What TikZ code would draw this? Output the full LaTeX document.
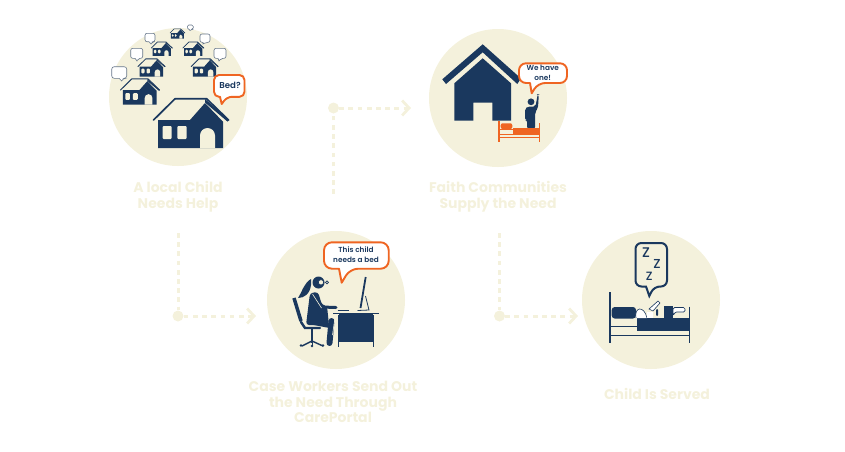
\documentclass[tikz,border=0pt]{standalone}
\usepackage{fontspec}
\setmainfont{Poppins}
\newfontfamily\midfont{Poppins Medium}
\newfontfamily\semifont{Poppins SemiBold}
\usetikzlibrary{arrows.meta}
\definecolor{cream}{HTML}{F4F1DC}
\definecolor{navy}{HTML}{1A385E}
\definecolor{flame}{HTML}{EF6522}
\definecolor{hazy}{HTML}{66768A}
\tikzset{
  disc/.style={circle,fill=cream,inner sep=0pt,minimum size=138pt},
  caption/.style={text=cream,align=center,font=\fontsize{14}{15.6}\selectfont\bfseries,inner sep=0pt},
  saying/.style={text=navy,align=center,font=\fontsize{7.3}{10.6}\semifont,inner sep=0pt},
  trail/.style={draw=cream,line width=3pt,dash pattern=on 4.7pt off 4.5pt},
  trailhead/.style={draw=cream,line width=2.8pt,-{Straight Barb[length=7pt,width=15pt]}},
  dot/.style={circle,fill=cream,inner sep=0pt,minimum size=11pt},
  orangeballoon/.style={draw=flame,fill=white,line width=1.9pt,line join=round},
  tinyballoon/.style={draw=hazy,fill=white,line width=.6pt},
  pics/cottage/.style={code={
    \fill[navy] (-33,0)--(-1,0)--(14,-17)--(32,1.7)--(32,28)--(-33,28)--cycle;
    \draw[navy,line width=#1pt,line join=round,line cap=round] (-37.5,0)--(-16,-21.2)--(15.7,-21.2)--(37.5,0);
    \fill[navy] (14,-21) -- (38.3,0) -- (36.5,1.6) -- (14,-17.5) -- cycle;
    \fill[cream] (9,28)--(9,15.5) arc[start angle=180,end angle=360,radius=7.5]--(24,28)--cycle;
    \fill[cream,rounded corners=1pt] (-28.3,6) rectangle (-19.3,19);
    \fill[cream,rounded corners=1pt] (-13.7,6) rectangle (-4.3,19);
  }}
}
% style, radius, x1, x2, y1, y2, tail start, tail end, tip
\newcommand{\speech}[9]{
  \draw[#1] (#9)--(#7,#6)[rounded corners=#2pt]--(#3,#6)--(#3,#5)--(#4,#5)--(#4,#6)--(#8,#6)[sharp corners]--cycle;
}
\begin{document}
\begin{tikzpicture}[x=1pt,y=-1pt]
\useasboundingbox (0,0) rectangle (845,451);

\node[disc] (need) at (178,97) {};
\node[disc] (supply) at (498,98) {};
\node[disc] (worker) at (336,300) {};
\node[disc] (served) at (651,300) {};

\node[caption] (needtext) at (178,197) {A local Child\\Needs Help};
\node[caption] (supplytext) at (498,197) {Faith Communities\\Supply the Need};
\node[caption] (workertext) at (333,402) {Case Workers Send Out\\the Need Through\\CarePortal};
\node[caption] (servedtext) at (657,394) {Child Is Served};

% dotted trails
\node[dot] (dotone) at (178,316) {};
\node[dot] (dottwo) at (333.5,108) {};
\node[dot] (dotthree) at (499.5,316) {};
\coordinate (startone) at (178,233);
\coordinate (starttwo) at (333.5,194);
\coordinate (startthree) at (499.5,233);
\coordinate (endone) at (256,316);
\coordinate (endtwo) at (411,108);
\coordinate (endthree) at (578,316);
\draw[trail] (startone)--(dotone);
\draw[trail] (dotone)--(endone);
\draw[trailhead,dash pattern=on 0pt off 100pt] (dotone)--(endone);
\draw[trail] (starttwo)--(dottwo);
\draw[trail] (dottwo)--(endtwo);
\draw[trailhead,dash pattern=on 0pt off 100pt] (dottwo)--(endtwo);
\draw[trail] (startthree)--(dotthree);
\draw[trail] (dotthree)--(endthree);
\draw[trailhead,dash pattern=on 0pt off 100pt] (dotthree)--(endthree);

% neighbourhood
\pic[scale=.2] at (177.5,33) {cottage=.5};
\pic[scale=.28] at (161.8,48) {cottage=.7};
\pic[scale=.28] at (193.3,48) {cottage=.7};
\pic[scale=.36] at (151.5,66.5) {cottage=.8};
\pic[scale=.36] at (204.7,66.5) {cottage=.8};
\pic[scale=.52] at (140,90) {cottage=1};
\pic at (191,120) {cottage=1.7};
\speech{tinyballoon}{2.5}{111.7}{126.7}{66.7}{78.3}{119}{123}{121.7,81}
\speech{tinyballoon}{2}{130.7}{142.7}{48.3}{58.3}{135}{138}{137,61}
\speech{tinyballoon}{2}{145}{155}{33.3}{41.7}{149}{152}{151,44}
\speech{tinyballoon}{2}{214}{226}{48.3}{58.3}{218}{221}{219,61}
\speech{tinyballoon}{2}{200}{210}{34}{42.3}{203}{206}{203,44}
\speech{tinyballoon}{1.5}{187.3}{193.3}{25}{29.3}{189}{191}{190,30.5}
\speech{orangeballoon}{5}{214}{244.5}{75}{96.8}{220}{227}{221.7,104}
\node[saying,font=\fontsize{8.6}{10}\semifont] (bedtext) at (230,85.5) {Bed?};

% church, helper and bed
\fill[navy] (482.7,44.3)--(521,78.5)--(517.3,84)--(482.7,52.3)--(446,84)--(442.3,79.3)--cycle;
\fill[navy] (482.7,58.3)--(511,83.3)--(511,120.7)--(492.3,120.7)--(492.3,102.7)--(473.3,102.7)--(473.3,120.7)--(454.3,120.7)--(454.3,83.3)--cycle;
\speech{orangeballoon}{7}{519}{567}{63.3}{83}{530}{538}{531.7,93.3}
\node[saying] (havetext) at (542.7,73) {We have\\one!};
\fill[navy] (531,101.8) circle (3.4);
\fill[navy,rounded corners=2pt] (525,120)--(525,108.5)--(528,106.5)--(535.5,106.5)--(537.7,94.3)--(538.8,94.5)--(538,108)--(535.2,112)--(535.2,128.5)--(527,128.5)--(527,120)--cycle;
\draw[flame,line width=1.2pt] (499,121)--(499,141.7);
\draw[flame,line width=1.2pt] (539.7,123.3)--(539.7,141.7);
\draw[flame,line width=1.2pt] (499,137.7)--(539.7,137.7);
\draw[flame,line width=.8pt] (499,129)--(513,129);
\draw[flame,line width=.8pt] (499,134.5)--(513,134.5);
\fill[flame] (512.7,128.3) rectangle (539.7,135);
\fill[flame,rounded corners=2pt] (500.7,129)--(500.7,123.3)--(512.3,123.3)--(512.3,129)--cycle;

% case worker
\speech{orangeballoon}{8}{324}{388.7}{242.3}{268.7}{339}{350}{341.7,282.7}
\node[saying] (childtext) at (356,254.5) {This child\\needs a bed};
\fill[navy] (318.5,282.5) circle (6);
\fill[navy] (311,279) .. controls (304,283) and (303,290) .. (298,298) .. controls (304,298) and (310,294) .. (311,285) -- cycle;
\draw[navy,line width=.7pt,fill=cream] (321,282.3) circle (2.7);
\draw[navy,line width=.7pt,fill=cream] (327,282.3) circle (1.5);
\fill[navy,rounded corners=3pt] (310,293)--(318,292)--(322,305)--(327,306)--(329,325)--(306,325)--cycle;
\draw[navy,line width=3pt,line cap=round,line join=round] (315,297)--(322,307)--(336,307.5);
\draw[cream,line width=.6pt] (312.5,294)--(321.5,308);
\draw[navy,line width=4.5pt,line cap=round] (310,322)--(331,326);
\draw[navy,line width=6pt,line cap=round] (331.5,321)--(329.5,343);
\draw[cream,line width=.6pt] (334.8,319)--(332.5,335);
\draw[navy,line width=3.5pt] (294,298)--(301,321);
\draw[navy,line width=2.4pt,line cap=round] (301,322)--(305,328)--(320,328);
\draw[navy,line width=1.4pt] (312,329)--(312,343);
\draw[navy,line width=1.4pt] (302,346)--(312,341)--(323,346);
\draw[navy,line width=1pt] (312,341)--(312,346);
\fill[navy] (301,345.5) circle (1.4) (312,346) circle (1.4) (323,345.5) circle (1.4);
\draw[navy,line width=1.8pt] (333,313.5)--(379,313.5);
\fill[navy] (339,314) rectangle (373,342);
\draw[navy,line width=1.6pt] (338.5,315)--(338.5,346.7);
\draw[navy,line width=1.6pt] (373.5,315)--(373.5,346.7);
\draw[navy,line width=1.8pt] (365.7,277)--(360.5,308);
\draw[navy,line width=.8pt] (365.5,296)--(369,310)--(357.5,310.5);
\draw[navy,line width=1pt] (337.5,310.7)--(349,310.7);

% sleeping child
\speech{draw=navy,fill=cream,line width=2pt}{6}{635.5}{667}{243}{286.5}{646}{654}{649.3,296}
\node[saying,font=\fontsize{14}{14}\midfont] (zedone) at (646,252.7) {Z};
\node[saying,font=\fontsize{13}{13}\midfont] (zedtwo) at (657,263.5) {Z};
\node[saying,font=\fontsize{12}{12}\midfont] (zedthree) at (649.3,276.5) {Z};
\draw[navy,line width=1.6pt] (609.7,292.3)--(609.7,343.3);
\draw[navy,line width=1.6pt] (689.3,306.7)--(689.3,343.3);
\draw[navy,line width=1.6pt] (609.7,335.5)--(689.3,335.5);
\draw[navy,line width=1.2pt] (609.7,326.5)--(637,326.5);
\fill[navy,rounded corners=3pt] (611.7,318.5)--(611.7,307)--(636,307)--(636,318.5)--cycle;
\fill[navy] (636.7,317.7) rectangle (689.3,331);
\draw[navy,line width=.6pt,fill=white] (636,318) .. controls (634,307) and (644,305) .. (647,318);
\fill[white] (647,312) rectangle (653,317.7);
\draw[navy,fill=white,line width=.6pt] (649,309) -- (658,301) -- (660,303) -- (653,311) -- cycle;
\fill[navy] (664,305.7) rectangle (673,318);
\fill[navy,rounded corners=1pt] (656,309) rectangle (658,316);
\draw[navy,line width=.7pt,fill=white,rounded corners=1.5pt] (673,307.5)--(685,307.5)--(685,312)--(675,312)--(673,316)--cycle;
\end{tikzpicture}
\end{document}
